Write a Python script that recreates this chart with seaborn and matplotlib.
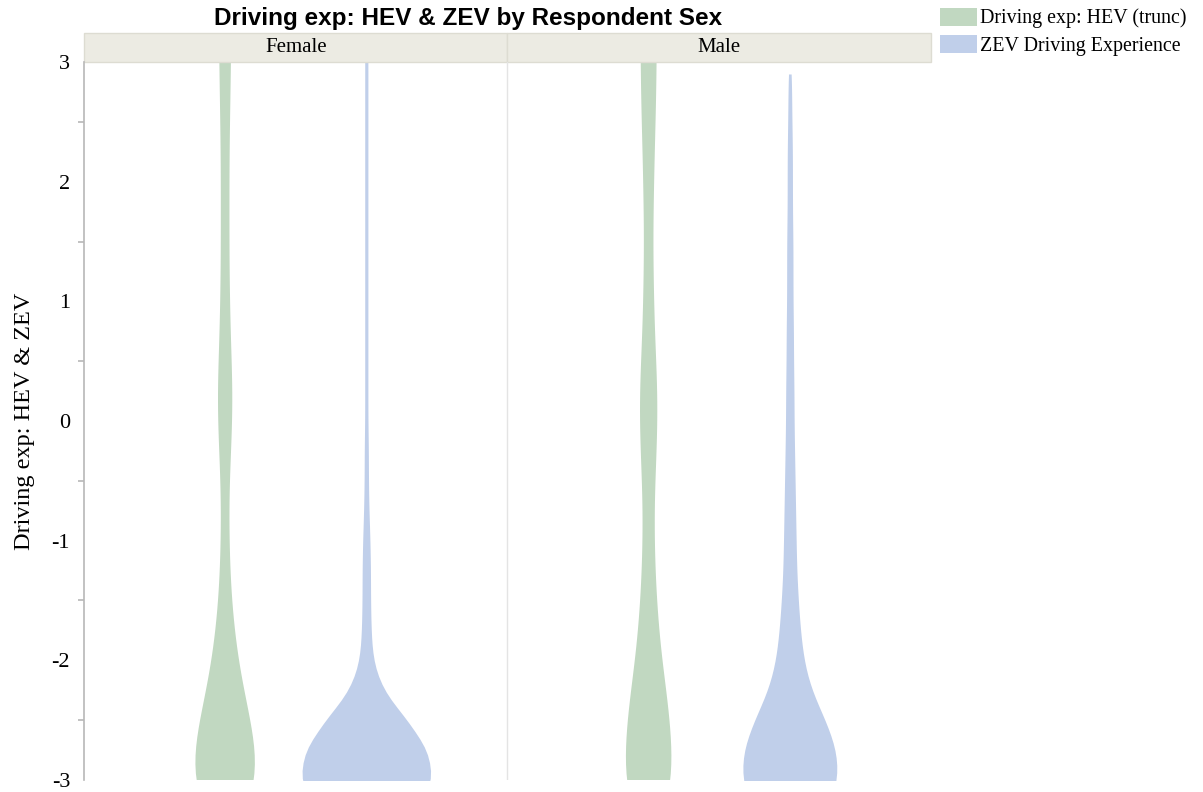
import numpy as np
import pandas as pd
import seaborn as sns
import matplotlib.pyplot as plt
from matplotlib.patches import Rectangle, Patch

sns.set_style("white")
plt.rcParams['font.family'] = ['Liberation Serif', 'DejaVu Serif']
plt.rcParams['text.color'] = 'black'
plt.rcParams['axes.labelcolor'] = 'black'
plt.rcParams['ytick.labelcolor'] = 'black'

# response levels (standardised) and number of respondents at each level
levels = [-3.25, -3.0, -2.75, -2.5, -2.25, -2.0, -1.75, -1.5, -1.25, -1.0, -0.75,
          -0.5, -0.25, 0.0, 0.25, 0.5, 0.75, 1.0, 1.25, 1.5, 1.75, 2.0, 2.25,
          2.5, 2.75, 3.0, 3.25]
hev_levels = levels + [3.5, 3.75, 4.0, 4.25]
female_hev = [52, 64, 60, 48, 34, 24, 17, 12, 9, 8, 7, 8, 11, 14, 15, 12, 10, 9,
              8, 8, 8, 8, 8, 9, 10, 11, 11, 13, 13, 12, 10]
female_zev = [100, 128, 118, 78, 30, 12, 9, 8, 8, 7, 5, 4, 4, 3, 3, 3, 3, 3,
              3, 3, 3, 3, 3, 3, 3, 3, 3]
male_hev = [40, 46, 44, 40, 33, 24, 19, 15, 12, 11, 10, 12, 15, 17, 17, 14, 11,
            10, 9, 8, 9, 10, 11, 13, 14, 15, 15, 15, 14, 10, 5]
male_zev_levels = levels[:25] + [2.9]
male_zev = [75, 93, 90, 68, 40, 26, 20, 16, 13, 12, 11, 10, 9, 8, 8, 7, 7, 6, 6,
            6, 5, 5, 5, 4, 3, 2]

sexes = ["Female", "Male"]
measures = ["Driving exp: HEV (trunc)", "ZEV Driving Experience"]
colors = ["#C1D8C1", "#C0CFEA"]

groups = [
    ("Female", measures[0], 1, hev_levels, female_hev),
    ("Female", measures[1], 2, levels, female_zev),
    ("Male", measures[0], 4, hev_levels, male_hev),
    ("Male", measures[1], 5, male_zev_levels, male_zev),
]
frames = []
for sex, meas, pos, lv, cnt in groups:
    frames.append(pd.DataFrame({
        "sex": sex, "measure": meas, "pos": pos,
        "value": np.repeat(lv, cnt)}))
df = pd.concat(frames, ignore_index=True)

fig = plt.figure(figsize=(12.03, 7.92), dpi=100)
ax = fig.add_axes([0.0698, 0.0152, 0.7041, 0.9065])

sns.violinplot(data=df, x="pos", y="value", hue="measure", hue_order=measures,
               palette=colors, native_scale=True, dodge=False, inner=None,
               cut=0, bw_method=0.12, density_norm="area", common_norm=True,
               width=0.91, linewidth=0, saturation=1, legend=False, ax=ax)

ax.set_xlim(0, 6)
ax.set_ylim(-3, 3)
ax.set_xticks([])
ax.set_xlabel("")
ax.set_yticks(range(-3, 4))
ax.set_yticks([-2.5, -1.5, -0.5, 0.5, 1.5, 2.5], minor=True)
ax.set_yticklabels([str(v) for v in range(-3, 4)], fontsize=16)
ax.tick_params(axis="y", which="major", length=7, color="#b8b8b8", width=1.2, pad=3)
ax.tick_params(axis="y", which="minor", length=4, color="#b8b8b8", width=1.2, left=True)
for s in ["top", "right", "bottom"]:
    ax.spines[s].set_visible(False)
ax.spines["left"].set_color("#b8b8b8")
ax.spines["left"].set_linewidth(1.2)
ax.axvline(3, color="#e4e4e4", lw=1)
ax.set_ylabel("Driving exp: HEV & ZEV", fontsize=17.5, labelpad=12)

# facet strip headers
for i, sex in enumerate(sexes):
    ax.add_patch(Rectangle((i * 3, 1.0), 3, 0.04, transform=ax.get_xaxis_transform(),
                           facecolor="#ECEBE3", edgecolor="#DDDCD2", lw=1,
                           clip_on=False))
    ax.text(i * 3 + 1.5, 1.02, sex, transform=ax.get_xaxis_transform(),
            ha="center", va="center", fontsize=15)

fig.text(0.389, 0.977, "Driving exp: HEV & ZEV by Respondent Sex",
         ha="center", va="center", fontsize=17.5, fontweight="bold",
         family="Liberation Sans")

handles = [Patch(facecolor=c, edgecolor="none") for c in colors]
fig.legend(handles, measures, loc="upper left", bbox_to_anchor=(0.7695, 1.008),
           frameon=False, fontsize=14.4, handlelength=1.85, handleheight=1.0,
           handletextpad=0.15, labelspacing=0.32, borderaxespad=0.3)

fig.savefig("out.png", dpi=100)
